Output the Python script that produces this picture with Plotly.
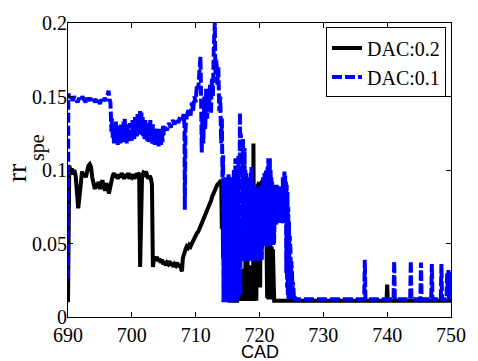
import plotly.graph_objects as go

# DAC:0.2 (black, solid)
cad_02 = [690.0, 690.05, 690.2, 690.4, 690.6, 690.8, 691.0, 691.2, 691.4, 691.6, 691.8, 692.0, 692.2, 692.4,
          692.6, 692.8, 693.0, 693.2, 693.4, 693.6, 693.8, 694.0, 694.2, 694.4, 694.6, 694.8, 695.0, 695.2,
          695.4, 695.6, 695.8, 696.0, 696.2, 696.4, 696.6, 696.8, 697.0, 697.2, 697.4, 697.6, 697.8, 698.0,
          698.2, 698.4, 698.6, 698.8, 699.0, 699.2, 699.4, 699.6, 699.8, 700.0, 700.2, 700.4, 700.6, 700.8,
          701.0, 701.15, 701.3, 701.45, 701.6, 701.8, 702.0, 702.2, 702.4, 702.6, 702.8, 703.0, 703.15, 703.3,
          703.5, 703.7, 703.9, 704.1, 704.3, 704.5, 704.7, 704.9, 705.1, 705.3, 705.5, 705.7, 705.9, 706.1,
          706.3, 706.5, 706.7, 706.9, 707.1, 707.3, 707.5, 707.7, 707.85, 708.0, 708.2, 708.4, 708.6, 708.8,
          709.0, 709.2, 709.4, 709.6, 709.8, 710.0, 710.2, 710.4, 710.6, 710.8, 711.0, 711.2, 711.4, 711.6,
          711.8, 712.0, 712.2, 712.4, 712.6, 712.8, 713.0, 713.2, 713.4, 713.6, 713.8,
          714.0, 714.1, 714.2, 714.3, 714.4, 714.5, 714.6, 714.7, 714.8, 714.9, 715.0, 715.1, 715.2, 715.3,
          716.0, 716.5, 716.6, 716.7, 716.8, 716.9, 717.0, 717.1, 717.2, 717.3, 717.4, 717.5, 717.6, 717.7,
          717.8, 717.9, 718.1, 718.2, 718.3, 718.6, 718.7, 718.8, 719.0, 719.05, 719.15, 719.3, 719.4, 719.5,
          719.6, 719.8, 720.0, 720.1, 720.2, 720.4, 720.6, 720.8, 721.0, 721.1, 721.2, 721.3, 721.4, 721.5,
          721.6, 721.7, 721.8, 721.9, 722.0, 722.1, 722.2, 722.3, 730.0, 739.9, 740.0, 740.1, 750.0]
rr_02 = [0.010, 0.100, 0.103, 0.099, 0.101, 0.097, 0.100, 0.096, 0.085, 0.074, 0.082, 0.095, 0.099, 0.096,
         0.098, 0.095, 0.100, 0.103, 0.104, 0.102, 0.095, 0.089, 0.087, 0.091, 0.088, 0.092, 0.087, 0.091,
         0.093, 0.088, 0.086, 0.091, 0.089, 0.084, 0.087, 0.092, 0.096, 0.098, 0.095, 0.097, 0.094, 0.097,
         0.095, 0.098, 0.096, 0.094, 0.097, 0.095, 0.098, 0.094, 0.096, 0.095, 0.097, 0.094, 0.096, 0.095,
         0.098, 0.097, 0.034, 0.060, 0.096, 0.098, 0.097, 0.099, 0.096, 0.094, 0.096, 0.094, 0.090, 0.034,
         0.041, 0.039, 0.041, 0.038, 0.040, 0.037, 0.039, 0.036, 0.038, 0.035, 0.037, 0.036, 0.038, 0.035,
         0.037, 0.034, 0.036, 0.035, 0.037, 0.034, 0.036, 0.033, 0.031, 0.040, 0.044, 0.046, 0.048, 0.047,
         0.049, 0.048, 0.050, 0.052, 0.054, 0.055, 0.057, 0.058, 0.060, 0.062, 0.064, 0.066, 0.068, 0.071,
         0.072, 0.075, 0.077, 0.079, 0.082, 0.084, 0.087, 0.089, 0.090, 0.091, 0.092,
         0.093, 0.060, 0.092, 0.040, 0.090, 0.020, 0.085, 0.011, 0.070, 0.011, 0.050, 0.011, 0.060, 0.011,
         0.011, 0.011, 0.056, 0.011, 0.031, 0.011, 0.028, 0.011, 0.030, 0.012, 0.033, 0.011, 0.030, 0.011,
         0.040, 0.011, 0.045, 0.011, 0.030, 0.035, 0.011, 0.025, 0.011, 0.118, 0.011, 0.040, 0.085, 0.011,
         0.088, 0.090, 0.089, 0.020, 0.091, 0.092, 0.090, 0.091, 0.090, 0.049, 0.013, 0.048, 0.012, 0.050,
         0.013, 0.049, 0.012, 0.048, 0.014, 0.046, 0.030, 0.011, 0.011, 0.011, 0.022, 0.011, 0.011]

# DAC:0.1 (blue, dashed)
cad_01 = [690.0, 690.05, 690.25, 690.5, 690.75, 691.0, 691.25, 691.5, 691.75, 692.0, 692.25, 692.5, 692.75,
          693.0, 693.25, 693.5, 693.75, 694.0, 694.25, 694.5, 694.75, 695.0, 695.25, 695.5, 695.75, 696.0,
          696.2, 696.35, 696.5, 696.65, 696.8,
          696.9, 697.0, 697.1, 697.2, 697.3, 697.4, 697.5, 697.6, 697.7, 697.8, 697.9, 698.0, 698.1, 698.2,
          698.3, 698.4, 698.5, 698.6, 698.7, 698.8, 698.9, 699.0, 699.1, 699.2, 699.3, 699.4, 699.5, 699.6,
          699.7, 699.8, 699.9, 700.0, 700.1, 700.2, 700.3, 700.4, 700.5, 700.6, 700.7, 700.8, 700.9, 701.0,
          701.1, 701.2, 701.3, 701.4, 701.5, 701.6, 701.7, 701.8, 701.9, 702.0, 702.1, 702.2, 702.3, 702.4,
          702.5, 702.6, 702.7, 702.8, 702.9, 703.0, 703.1, 703.2, 703.3, 703.4, 703.5, 703.6, 703.7, 703.8,
          703.9, 704.0, 704.1, 704.2, 704.3, 704.4, 704.5, 704.6, 704.7, 704.8, 704.9, 705.0,
          705.2, 705.5, 705.8, 706.1, 706.4, 706.7, 707.0, 707.3, 707.6, 707.9, 708.1, 708.25, 708.3, 708.4,
          708.6, 708.9, 709.2, 709.4, 709.6, 709.8, 710.0, 710.2, 710.4, 710.6, 710.75, 710.85, 710.95, 711.05,
          711.2, 711.35, 711.5, 711.65, 711.8, 711.95, 712.1, 712.25, 712.4, 712.55, 712.7, 712.85, 713.0,
          713.1, 713.25, 713.4, 713.55, 713.7, 713.85, 714.0, 714.1, 714.2, 714.3,
          714.36, 714.42, 714.48, 714.54, 714.6, 714.66, 714.72, 714.78, 714.84, 714.9, 714.96, 715.02,
          715.08, 715.14, 715.2, 715.26, 715.32, 715.38, 715.44, 715.5, 715.56, 715.62, 715.68, 715.74,
          715.8, 715.86, 715.92, 715.98, 716.04, 716.1, 716.16, 716.22, 716.28, 716.34, 716.4, 716.46,
          716.52, 716.58, 716.64, 716.7, 716.76, 716.82, 716.88, 716.94, 717.0, 717.06, 717.12, 717.18,
          717.24, 717.3, 717.36, 717.42, 717.48, 717.54, 717.6, 717.66, 717.72, 717.78, 717.84, 717.9,
          717.96, 718.02, 718.08, 718.14, 718.2, 718.26, 718.32, 718.38, 718.44, 718.5, 718.56, 718.62,
          718.68, 718.74, 718.8, 718.86, 718.92, 718.98, 719.04, 719.1, 719.16, 719.22, 719.28, 719.34,
          719.4, 719.46, 719.52, 719.58, 719.64, 719.7, 719.76, 719.82, 719.88, 719.94, 720.0, 720.06,
          720.12, 720.18, 720.24, 720.3, 720.36,
          720.42, 720.48, 720.54, 720.6, 720.66, 720.72, 720.78, 720.84, 720.9, 720.96, 721.02, 721.08,
          721.14, 721.2, 721.26, 721.32, 721.38, 721.44, 721.5, 721.56, 721.62, 721.68, 721.74, 721.8,
          721.86, 721.92, 721.98, 722.04, 722.1, 722.16, 722.22, 722.28,
          722.34, 722.4, 722.46, 722.52, 722.58, 722.64, 722.7, 722.76, 722.82, 722.88, 722.94, 723.0,
          723.06, 723.12, 723.18, 723.24, 723.3, 723.36, 723.42, 723.48, 723.54, 723.6, 723.66, 723.72,
          723.78, 723.84, 723.9, 723.96, 724.02, 724.08, 724.14,
          724.2, 724.26, 724.32, 724.38, 724.44, 724.5, 724.56, 724.62, 724.68, 724.74, 724.8, 724.86,
          724.92, 724.98, 725.04, 725.1, 725.16, 725.22, 725.28, 725.34, 725.4, 725.5, 725.6,
          730.0, 736.4, 736.5, 736.6, 741.0, 741.1, 741.2, 743.6, 743.7, 743.8, 745.2, 745.3, 745.4,
          746.9, 747.0, 747.1, 748.4, 748.5, 748.6, 749.3, 749.4, 749.5, 749.6, 749.7, 749.8, 749.9, 750.0]
rr_01 = [0.026, 0.152, 0.149, 0.151, 0.147, 0.150, 0.148, 0.146, 0.149, 0.147, 0.150, 0.148, 0.146,
         0.149, 0.147, 0.149, 0.146, 0.148, 0.146, 0.149, 0.147, 0.145, 0.148, 0.146, 0.149, 0.147,
         0.151, 0.154, 0.148, 0.146, 0.126,
         0.135, 0.122, 0.131, 0.118, 0.129, 0.121, 0.133, 0.119, 0.127, 0.117, 0.130, 0.120, 0.128, 0.118,
         0.132, 0.121, 0.126, 0.119, 0.133, 0.122, 0.135, 0.120, 0.129, 0.118, 0.131, 0.122, 0.128, 0.119,
         0.132, 0.121, 0.127, 0.120, 0.134, 0.123, 0.130, 0.121, 0.136, 0.124, 0.132, 0.122, 0.138, 0.125,
         0.137, 0.124, 0.141, 0.126, 0.139, 0.123, 0.136, 0.122, 0.133, 0.121, 0.134, 0.123, 0.130, 0.120,
         0.132, 0.119, 0.129, 0.121, 0.134, 0.120, 0.128, 0.118, 0.131, 0.120, 0.126, 0.117, 0.129, 0.119,
         0.127, 0.118, 0.125, 0.116, 0.128, 0.118, 0.124, 0.117, 0.126, 0.119, 0.131, 0.124,
         0.129, 0.127, 0.132, 0.129, 0.134, 0.131, 0.135, 0.132, 0.137, 0.134, 0.138, 0.130, 0.073, 0.128,
         0.137, 0.141, 0.137, 0.146, 0.140, 0.150, 0.146, 0.158, 0.155, 0.170, 0.177, 0.150, 0.112, 0.135,
         0.118, 0.150, 0.128, 0.156, 0.135, 0.152, 0.140, 0.158, 0.138, 0.162, 0.150, 0.185, 0.200,
         0.165, 0.175, 0.158, 0.170, 0.140, 0.150, 0.118, 0.135, 0.095, 0.110,
         0.010, 0.090, 0.012, 0.085, 0.010, 0.095, 0.011, 0.088, 0.010, 0.092, 0.012, 0.086,
         0.010, 0.097, 0.011, 0.090, 0.010, 0.095, 0.012, 0.085, 0.010, 0.092, 0.011, 0.088,
         0.010, 0.095, 0.012, 0.100, 0.010, 0.105, 0.011, 0.108, 0.012, 0.098, 0.010, 0.095,
         0.012, 0.100, 0.015, 0.110, 0.014, 0.120, 0.016, 0.139, 0.015, 0.125, 0.016, 0.115,
         0.040, 0.110, 0.038, 0.121, 0.040, 0.105, 0.039, 0.115, 0.041, 0.100, 0.038, 0.098,
         0.040, 0.095, 0.039, 0.092, 0.041, 0.088, 0.038, 0.095, 0.040, 0.090, 0.039, 0.098,
         0.040, 0.102, 0.038, 0.095, 0.040, 0.088, 0.039, 0.085, 0.041, 0.090, 0.038, 0.086,
         0.040, 0.082, 0.039, 0.088, 0.041, 0.084, 0.038, 0.087, 0.040, 0.083, 0.039, 0.089,
         0.041, 0.085, 0.040, 0.088, 0.039,
         0.092, 0.049, 0.095, 0.050, 0.090, 0.048, 0.098, 0.050, 0.094, 0.049, 0.100, 0.050,
         0.097, 0.048, 0.103, 0.050, 0.108, 0.049, 0.104, 0.050, 0.108, 0.048, 0.100, 0.050,
         0.095, 0.049, 0.092, 0.050, 0.090, 0.049, 0.088, 0.050,
         0.087, 0.064, 0.088, 0.065, 0.086, 0.063, 0.090, 0.065, 0.087, 0.064, 0.085, 0.065,
         0.088, 0.064, 0.086, 0.065, 0.089, 0.064, 0.088, 0.065, 0.092, 0.064, 0.095, 0.066,
         0.098, 0.065, 0.100, 0.066, 0.096, 0.065, 0.092,
         0.030, 0.090, 0.020, 0.085, 0.015, 0.075, 0.012, 0.065, 0.012, 0.055, 0.012, 0.045,
         0.012, 0.038, 0.012, 0.030, 0.012, 0.024, 0.012, 0.018, 0.012, 0.014, 0.012,
         0.012, 0.012, 0.039, 0.012, 0.012, 0.038, 0.012, 0.012, 0.038, 0.012, 0.012, 0.037, 0.012,
         0.012, 0.036, 0.012, 0.012, 0.036, 0.012, 0.012, 0.030, 0.015, 0.032, 0.012, 0.031, 0.014, 0.030]

x_ticks = [690, 700, 710, 720, 730, 740, 750]
y_ticks = [0, 0.05, 0.1, 0.15, 0.2]
y_tick_text = ["0", "0.05", "0.1", "0.15", "0.2"]

serif = "Liberation Serif"

fig = go.Figure()
fig.add_trace(go.Scatter(x=cad_02, y=rr_02, mode="lines", name="DAC:0.2",
                         line=dict(color="black", width=4)))
fig.add_trace(go.Scatter(x=cad_01, y=rr_01, mode="lines", name="DAC:0.1",
                         line=dict(color="#0000ff", width=4, dash="10px,3px")))

axis_common = dict(showline=True, linecolor="black", linewidth=1, mirror="allticks",
                   ticks="inside", ticklen=5, tickcolor="black", showgrid=False, zeroline=False,
                   tickfont=dict(family=serif, size=20, color="black"))

fig.update_xaxes(range=[690, 750], tickvals=x_ticks, **axis_common)
fig.update_yaxes(range=[0, 0.2], tickvals=y_ticks, ticktext=y_tick_text, ticklabelstandoff=-4,
                 **axis_common)

# y-axis label "rr" with subscript "spe" (two pieces so the subscript offset matches)
fig.add_annotation(text="rr", xref="paper", yref="paper", x=-0.136, y=0.492,
                   xanchor="center", yanchor="middle", textangle=-90, showarrow=False,
                   font=dict(family=serif, size=28, color="black"))
fig.add_annotation(text="spe", xref="paper", yref="paper", x=-0.078, y=0.575,
                   xanchor="center", yanchor="middle", textangle=-90, showarrow=False,
                   font=dict(family=serif, size=20, color="black"))
fig.add_annotation(text="CAD", xref="paper", yref="paper", x=0.5, y=-0.118,
                   xanchor="center", yanchor="middle", showarrow=False,
                   font=dict(family="Liberation Sans", size=18, color="black"))

fig.update_layout(
    width=478, height=361,
    margin=dict(l=68, r=16, t=15, b=44),
    paper_bgcolor="white", plot_bgcolor="white",
    showlegend=True,
    legend=dict(x=0.987, y=0.985, xanchor="right", yanchor="top",
                bgcolor="white", bordercolor="black", borderwidth=1,
                font=dict(family=serif, size=20, color="black"),
                tracegroupgap=0, itemwidth=30),
)

fig.write_html("out.html")
